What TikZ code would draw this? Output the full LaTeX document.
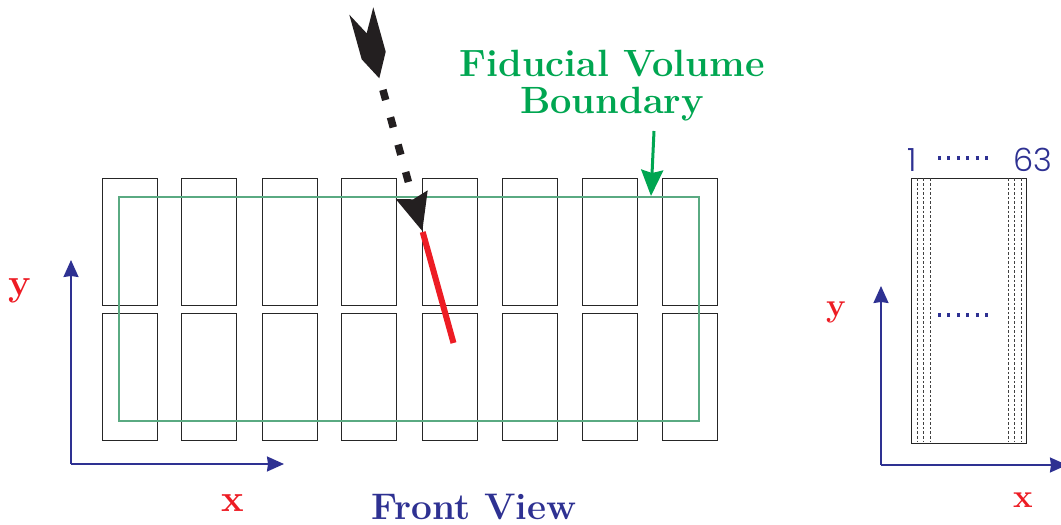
\documentclass[tikz,border=0pt]{standalone}
\usepackage{fontspec}
\usepackage{xcolor}
\usetikzlibrary{arrows.meta}
\newfontfamily\numfont{Poppins Light}
\definecolor{axisblue}{RGB}{46,49,146}
\definecolor{labelred}{RGB}{237,28,36}
\definecolor{fidgreen}{RGB}{0,166,81}
\definecolor{fidline}{RGB}{90,170,130}
\definecolor{muonblack}{RGB}{35,31,32}
\tikzset{
    pmtbox/.style={rectangle, draw=black!85, line width=0.8pt, minimum width=55pt, minimum height=127pt, inner sep=0pt, node distance=80pt},
    axisline/.style={draw=axisblue, line width=1.8pt, -{Stealth[length=17pt, width=15pt, inset=1pt]}},
    axislabel/.style={text=labelred, font=\fontsize{38}{38}\selectfont\bfseries},
    sidelabel/.style={text=labelred, font=\fontsize{33}{33}\selectfont\bfseries},
    titletext/.style={font=\fontsize{38}{37}\selectfont\bfseries, align=center}
}
\begin{document}
\begin{tikzpicture}[x=1pt, y=1pt]
    \useasboundingbox (0,0) rectangle (1061,525);
    % upper row
    \node (a1) [pmtbox] at (129.5,283.5) {};
    \node (a2) [pmtbox, right of=a1, node distance=79pt] {};
    \node (a3) [pmtbox, right of=a2, node distance=81pt] {};
    \node (a4) [pmtbox, right of=a3, node distance=79pt] {};
    \node (a5) [pmtbox, right of=a4, node distance=81pt] {};
    \node (a6) [pmtbox, right of=a5] {};
    \node (a7) [pmtbox, right of=a6] {};
    \node (a8) [pmtbox, right of=a7] {};
    % lower row
    \node (b1) [pmtbox, below of=a1, node distance=135pt] {};
    \node (b2) [pmtbox, below of=a2, node distance=135pt] {};
    \node (b3) [pmtbox, below of=a3, node distance=135pt] {};
    \node (b4) [pmtbox, below of=a4, node distance=135pt] {};
    \node (b5) [pmtbox, below of=a5, node distance=135pt] {};
    \node (b6) [pmtbox, below of=a6, node distance=135pt] {};
    \node (b7) [pmtbox, below of=a7, node distance=135pt] {};
    \node (b8) [pmtbox, below of=a8, node distance=135pt] {};

    \node (fid) [rectangle, draw=fidline, line width=1.8pt, minimum width=580pt, minimum height=224pt, inner sep=0pt] at (409,216) {};

    % incoming track
    \coordinate (mu1) at (382.9,435.1);
    \coordinate (mu2) at (408.4,343);
    \coordinate (trk1) at (422.7,293);
    \coordinate (trk2) at (453.5,182);
    \fill[muonblack] (349.3,510.3) -- (366.7,491.7) -- (373.3,517.7) -- (385.7,473.3) -- (379.3,446.7) -- (361.7,465.7) -- cycle;
    \draw[muonblack, line width=7.5pt, dash pattern=on 10.5pt off 17.9pt] (mu1) -- (mu2);
    \fill[muonblack] (395.7,326) -- (413.3,325.7) -- (427.7,334.7) -- (422.3,294) -- cycle;
    \draw[labelred, line width=6pt] (trk1) -- (trk2);

    \node (fidtext) [titletext, text=fidgreen] at (612,439) {Fiducial Volume\\Boundary};
    \coordinate (fidtail) at (654,394);
    \coordinate (fidtip) at (651,329);
    \draw[draw=fidgreen, line width=3pt, -{Stealth[length=26pt, width=22pt, inset=3pt]}] (fidtail) -- (fidtip);

    % front axes
    \coordinate (o1) at (71,61);
    \coordinate (y1) at (71,265);
    \coordinate (x1) at (284,61);
    \draw[axisline] (o1) -- (y1);
    \draw[axisline] (o1) -- (x1);
    \node (ylab1) [axislabel] at (20,234) {y};
    \node (xlab1) [axislabel] at (233,22) {x};
    \node (front) [titletext, font=\fontsize{37}{37}\selectfont\bfseries, text=axisblue] at (474,18) {Front View};

    % side view
    \node (side) [rectangle, draw=black!85, line width=0.9pt, minimum width=115pt, minimum height=265pt, inner sep=0pt] at (969,214.5) {};
    \foreach \xpos in {917.3, 923.5, 930, 1008, 1014.7, 1021}
        \draw[black!75, line width=1pt, dash pattern=on 2.6pt off 2pt] (\xpos,346.5) -- (\xpos,82.5);
    \coordinate (d1) at (938,367);
    \coordinate (d2) at (988,367);
    \coordinate (d3) at (938,210);
    \coordinate (d4) at (988,210);
    \draw[axisblue, line width=4pt, dash pattern=on 3pt off 6.4pt] (d1) -- (d2);
    \draw[axisblue, line width=4pt, dash pattern=on 3pt off 6.4pt] (d3) -- (d4);
    \node (first) [text=axisblue, font=\fontsize{32}{32}\selectfont\numfont] at (912,365) {1};
    \node (last) [text=axisblue, font=\fontsize{32}{32}\selectfont\numfont] at (1033,365) {63};

    \coordinate (o2) at (881,60);
    \coordinate (y2) at (881,239);
    \coordinate (x2) at (1067,60);
    \draw[axisline] (o2) -- (y2);
    \draw[axisline] (o2) -- (x2);
    \node (ylab2) [sidelabel] at (836,213) {y};
    \node (xlab2) [sidelabel] at (1023,25) {x};
\end{tikzpicture}
\end{document}
